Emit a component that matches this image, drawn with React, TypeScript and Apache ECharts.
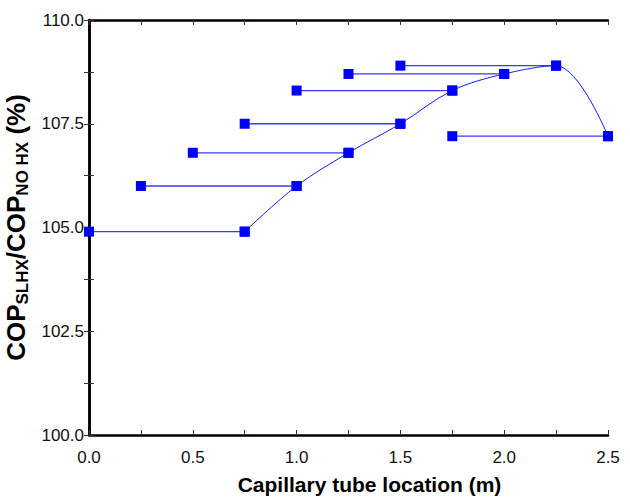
import React, { useEffect, useRef } from "react";
import * as echarts from "echarts";

const segStarts = [0.0, 0.25, 0.5, 0.75, 1.0, 1.25, 1.5, 1.75];
const segEnds = [0.75, 1.0, 1.25, 1.5, 1.75, 2.0, 2.25, 2.5];
const segValues = [104.9, 106.0, 106.8, 107.5, 108.3, 108.7, 108.9, 107.2];
const xTicks = ["0.0", "0.5", "1.0", "1.5", "2.0", "2.5"];
const yTicks = ["100.0", "102.5", "105.0", "107.5", "110.0"];

export default function App() {
  const ref = useRef<HTMLDivElement>(null);
  useEffect(() => {
    if (!ref.current) return;
    const chart = echarts.init(ref.current, null, { renderer: "svg" });
    const blue = "#0000ff";
    const segSeries = segStarts.map((s, i) => ({
      type: "line",
      data: [
        [s, segValues[i]],
        [segEnds[i], segValues[i]],
      ],
      symbol: "rect",
      symbolSize: 10,
      itemStyle: { color: blue },
      lineStyle: { color: "#3a3aff", width: 1.3 },
      z: 3,
    }));
    const curveSeries = {
      type: "line",
      data: segEnds.map((e, i) => [e, segValues[i]]),
      smooth: 0.35,
      symbol: "rect",
      symbolSize: 10,
      itemStyle: { color: blue },
      lineStyle: { color: "#1a1aff", width: 1 },
      z: 4,
    };
    const tickFont = { fontFamily: "Liberation Sans, Arial, sans-serif", fontSize: 17, color: "#111" };
    const axisLine = { show: true, lineStyle: { color: "#000", width: 2.5 } };
    const tick = { show: true, inside: true, length: 5, lineStyle: { color: "#333", width: 1 } };
    const minor = { show: true, splitNumber: 2, length: 5, lineStyle: { color: "#333", width: 1 } };
    chart.setOption({
      animation: false,
      grid: { left: 89, right: 22, top: 20, bottom: 62, containLabel: false, outerBoundsMode: "none" },
      xAxis: [
        {
          type: "value",
          min: 0,
          max: 2.5,
          interval: 0.5,
          position: "bottom",
          axisLine,
          axisTick: tick,
          minorTick: minor,
          splitLine: { show: false },
          axisLabel: {
            ...tickFont,
            margin: 14,
            formatter: (v: number) => xTicks[Math.round(v / 0.5)] ?? "",
          },
          name: "Capillary tube location (m)",
          nameLocation: "middle",
          nameGap: 39,
          nameTextStyle: {
            fontFamily: "Liberation Sans, Arial, sans-serif",
            fontWeight: "bold",
            fontSize: 21,
            color: "#000",
            padding: [0, 0, 0, 42],
          },
        },
        {
          type: "value",
          min: 0,
          max: 2.5,
          interval: 0.5,
          position: "top",
          axisLine,
          axisTick: tick,
          minorTick: minor,
          splitLine: { show: false },
          axisLabel: { show: false },
        },
      ],
      yAxis: [
        {
          type: "value",
          min: 100,
          max: 110,
          interval: 2.5,
          position: "left",
          axisLine,
          axisTick: tick,
          minorTick: minor,
          splitLine: { show: false },
          axisLabel: {
            ...tickFont,
            margin: 5,
            formatter: (v: number) => yTicks[Math.round((v - 100) / 2.5)] ?? "",
          },
          name: "{m|COP}{s|SLHX}{m|/COP}{s|NO HX}{m| (%)}",
          nameLocation: "middle",
          nameGap: 45,
          nameRotate: 90,
          nameTextStyle: {
            rich: {
              m: {
                fontFamily: "Liberation Sans, Arial, sans-serif",
                fontWeight: "bold",
                fontSize: 26,
                lineHeight: 30,
                color: "#000",
              },
              s: {
                fontFamily: "Liberation Sans, Arial, sans-serif",
                fontWeight: "bold",
                fontSize: 17,
                lineHeight: 18,
                verticalAlign: "bottom",
                color: "#000",
              },
            },
          },
        },
        {
          type: "value",
          min: 100,
          max: 110,
          interval: 2.5,
          position: "right",
          axisLine,
          axisTick: tick,
          minorTick: minor,
          splitLine: { show: false },
          axisLabel: { show: false },
        },
      ],
      series: [...segSeries, curveSeries],
    });
    return () => chart.dispose();
  }, []);
  return (
    <div
      ref={ref}
      style={{ position: "absolute", left: 0, top: 0, width: 630, height: 497, background: "#fff" }}
    />
  );
}
